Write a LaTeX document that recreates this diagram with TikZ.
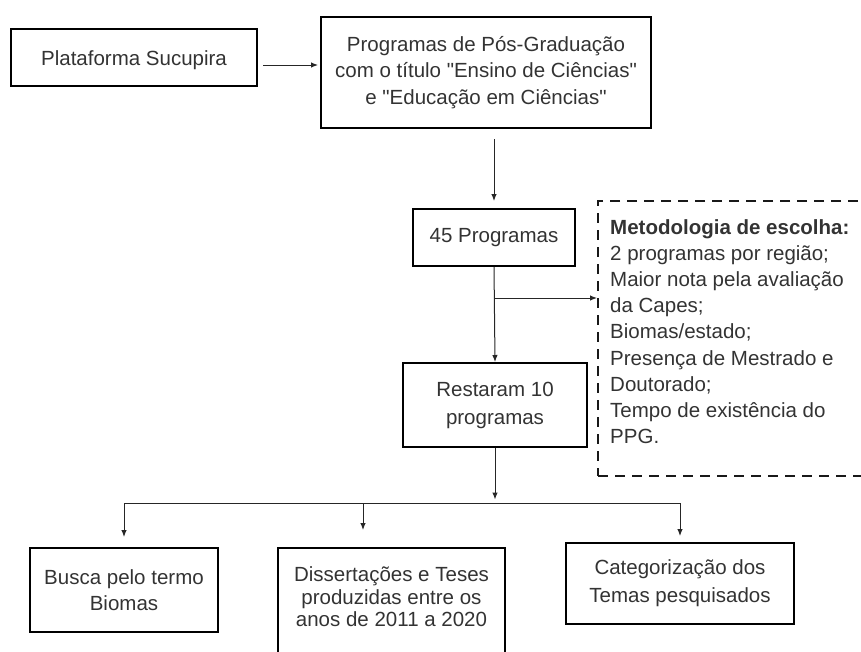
\documentclass[tikz,border=0pt]{standalone}
\usepackage{fontspec}
\setmainfont{Liberation Sans}[Ligatures=TeXOff]
\usetikzlibrary{arrows.meta,calc}
\begin{document}
\begin{tikzpicture}[x=1pt,y=-1pt,
  box/.style={draw=black,line width=2pt,align=center,inner sep=0pt,text=black!80},
  fnt/.style={font=\fontsize{20.5}{#1}\selectfont},
  arr/.style={line width=1pt,draw=black!85,-{Latex[length=7pt,width=5.5pt]}},
  ln/.style={line width=1pt,draw=black!85},
  dbox/.style={draw=black!90,line width=2pt,dash pattern=on 10pt off 7pt,inner sep=0pt}]
\useasboundingbox (0,0) rectangle (861,651);
\clip (0,0) rectangle (861,651);
\node[box,fnt=26,minimum width=246pt,minimum height=57pt,text depth=0pt,text height=15pt] (plat) at (134,57.5) {Plataforma Sucupira};
\node[box,fnt=26.5,minimum width=330pt,minimum height=111pt] (prog) at (486,72.5) {Programas de Pós-Graduação\\com o título "Ensino de Ciências"\\e "Educação em Ciências"};
\node[box,fnt=26,minimum width=162pt,minimum height=57pt] (p45) at (494,237.5) {45 Programas};
\node[box,fnt=28,minimum width=184pt,minimum height=84pt] (rest) at (495,405) {Restaram 10\\programas};
\node[dbox,anchor=north west,minimum width=290pt,minimum height=275pt] (met) at (597,200) {};
\node[anchor=north west,inner sep=0pt,align=left,text=black!80,fnt=26.2] (mettext) at ([shift={(13,19)}]met.north west)
 {\textbf{Metodologia de escolha:}\\2 programas por região;\\Maior nota pela avaliação\\da Capes;\\Biomas/estado;\\Presença de Mestrado e\\Doutorado;\\Tempo de existência do\\PPG.};
\node[box,fnt=26.5,minimum width=188pt,minimum height=84pt] (busca) at (124,590) {Busca pelo termo\\Biomas};
\node[box,anchor=north,minimum width=227pt,minimum height=110pt] (diss) at (391.5,547) {};
\node[anchor=center,align=center,inner sep=0pt,text=black!80,fnt=22.5] (disstext) at (391.5,597) {Dissertações e Teses\\produzidas entre os\\anos de 2011 a 2020};
\node[box,fnt=28,minimum width=228pt,minimum height=81pt] (cat) at (680,583.5) {Categorização dos\\Temas pesquisados};
% connectors
\coordinate (a1) at (263,65);
\draw[arr] (a1) -- ([xshift=-2pt]a1 -| prog.west);
\draw[arr] ([yshift=-10pt]prog.south -| p45.north) -- ([yshift=7pt]p45.north);
\draw[arr] (p45.south) -- (rest.north);
\coordinate (brk) at (495,298);
\draw[arr] (brk) -- (brk -| met.west);
\coordinate (j) at (495,503);
\draw[arr] (rest.south) -- ([yshift=3.5pt]j);
\draw[ln] (busca.north |- j) -- (cat.north |- j);
\draw[arr] (busca.north |- j) -- ([yshift=10pt]busca.north);
\coordinate (jd) at (363,503);
\draw[arr] (jd) -- ([yshift=17pt]jd |- diss.north);
\draw[arr] (cat.north |- j) -- ([yshift=6pt]cat.north);
\end{tikzpicture}
\end{document}
